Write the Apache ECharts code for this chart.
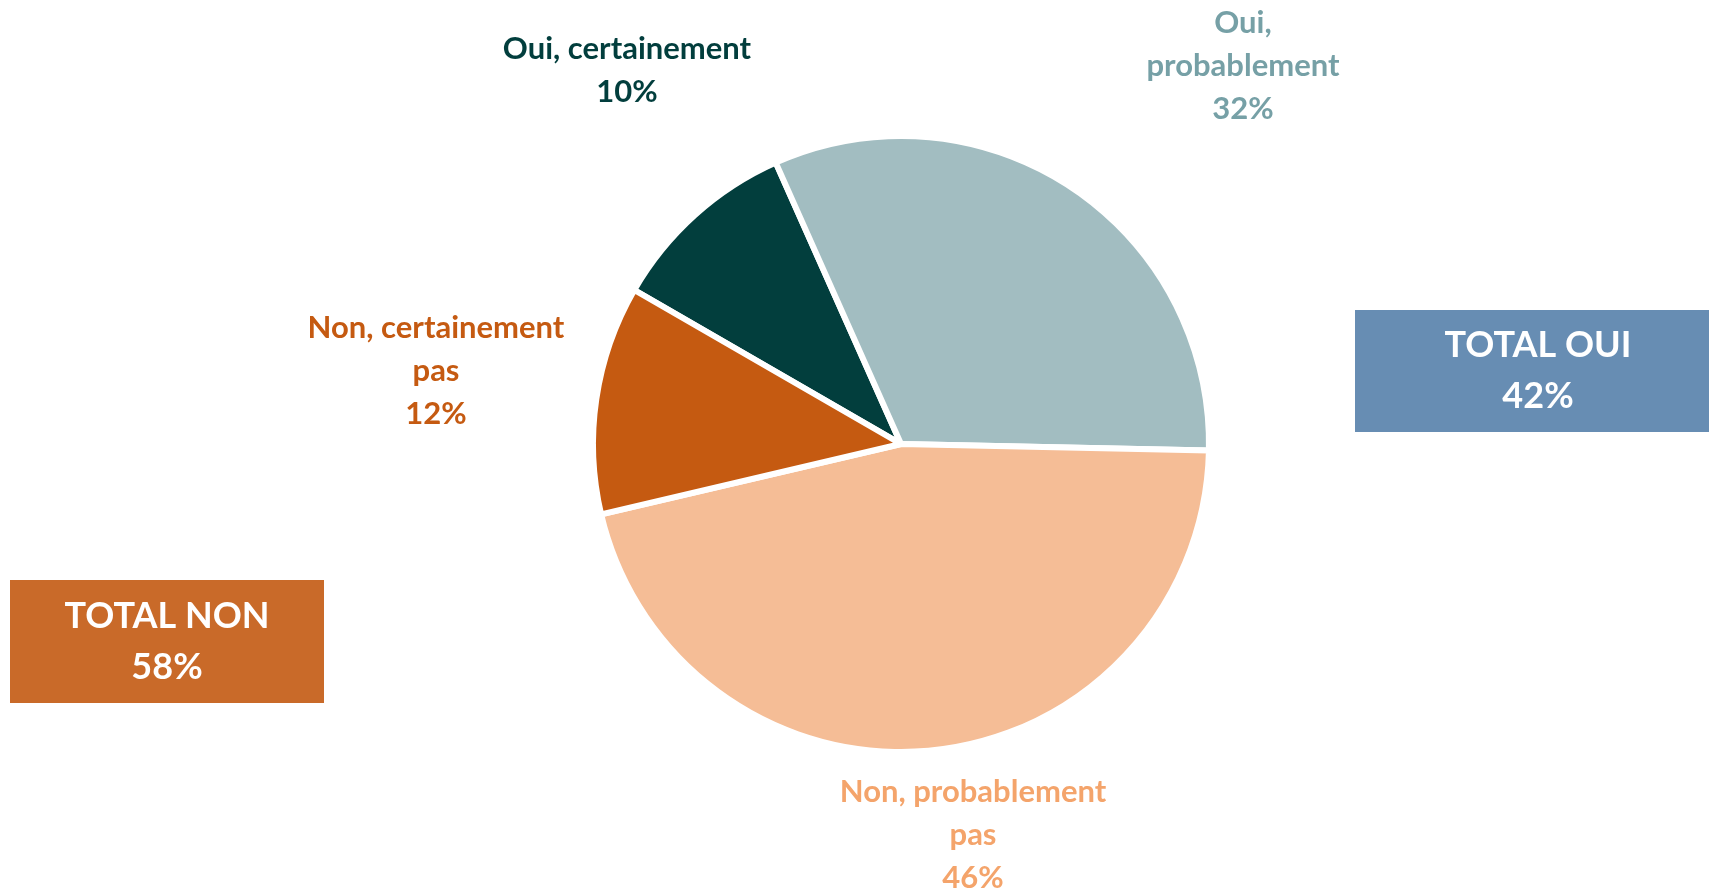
<!DOCTYPE html>
<html>
<head>
<meta charset="utf-8">
<script src="https://cdn.jsdelivr.net/npm/echarts@6/dist/echarts.min.js"></script>
<style>
	html, body { margin: 0; padding: 0; background: #fff; }
	#chart { width: 1709px; height: 890px; }
</style>
</head>
<body>
<div id="chart"></div>
<script>
	// données du sondage
	var categories = ['Oui, certainement', 'Oui,\nprobablement', 'Non, probablement\npas', 'Non, certainement\npas'];
	var values = [10, 32, 46, 12];
	var groupOui = [0, 1];
	var groupNon = [2, 3];

	var sliceColors = ['#023e3d', '#a2bdc1', '#f5bd96', '#c55a11'];
	var labelColors = ['#023e3d', '#76a0a6', '#f4a46b', '#c55a11'];
	// centre des étiquettes (px)
	var labelPos = [[627, 70], [1243, 66], [973, 835], [436, 371]];

	var font = 'Lato, "Open Sans", sans-serif';

	function total(idx) {
		var s = 0;
		for (var i = 0; i < idx.length; i++) s += values[idx[i]];
		return s;
	}

	var pieData = [];
	for (var i = 0; i < categories.length; i++) {
		pieData.push({
			name: categories[i],
			value: values[i],
			itemStyle: { color: sliceColors[i] },
			label: { color: labelColors[i] }
		});
	}

	var myChart = echarts.init(document.getElementById('chart'));
	myChart.setOption({
		animation: false,
		series: [{
			type: 'pie',
			center: [901, 444],
			radius: 308,
			startAngle: 150,
			clockwise: true,
			data: pieData,
			itemStyle: { borderColor: '#fff', borderWidth: 6 },
			labelLine: { show: false },
			label: {
				show: true,
				position: 'outside',
				formatter: '{b}\n{c}%',
				fontFamily: font,
				fontWeight: 'bold',
				fontSize: 31,
				lineHeight: 43,
				align: 'center'
			},
			labelLayout: function (params) {
				var p = labelPos[params.dataIndex];
				return { x: p[0], y: p[1], align: 'center', verticalAlign: 'middle' };
			}
		}],
		graphic: [
			{ type: 'rect', shape: { x: 1355, y: 310, width: 354, height: 122 }, style: { fill: '#678db3' } },
			{ type: 'text', x: 1538, y: 371, style: {
				text: 'TOTAL OUI\n' + total(groupOui) + '%', fill: '#fff', align: 'center', verticalAlign: 'middle',
				font: 'bold 36px ' + font, lineHeight: 51 } },
			{ type: 'rect', shape: { x: 10, y: 580, width: 314, height: 123 }, style: { fill: '#c96a29' } },
			{ type: 'text', x: 167, y: 642, style: {
				text: 'TOTAL NON\n' + total(groupNon) + '%', fill: '#fff', align: 'center', verticalAlign: 'middle',
				font: 'bold 36px ' + font, lineHeight: 51 } }
		]
	});
</script>
</body>
</html>
